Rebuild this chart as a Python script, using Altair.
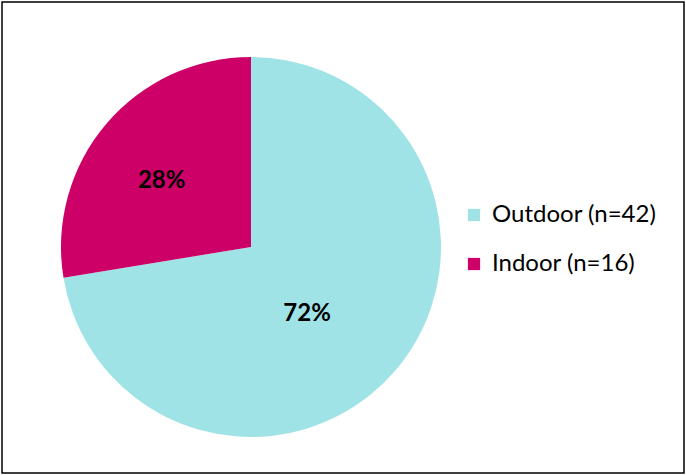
import altair as alt
import pandas as pd

categories = ["Outdoor (n=42)", "Indoor (n=16)"]
counts = [42, 16]
labels = ["72%", "28%"]
colors = ["#A0E3E6", "#CC0066"]

df = pd.DataFrame({"category": categories, "count": counts, "label": labels,
                   "order": list(range(len(categories)))})

base = alt.Chart(df).encode(
    theta=alt.Theta("count:Q", stack=True),
    order=alt.Order("order:Q"),
)

pie = base.mark_arc(outerRadius=190).encode(
    x=alt.value(249), y=alt.value(245),
    color=alt.Color("category:N",
                    scale=alt.Scale(domain=categories, range=colors),
                    sort=categories,
                    legend=alt.Legend(title=None, orient="none", legendX=460, legendY=201,
                                      symbolType="square", symbolSize=150,
                                      symbolStrokeWidth=0, labelFont="Lato",
                                      labelFontSize=24, labelColor="#000000",
                                      labelOffset=6, rowPadding=25, padding=0,
                                      labelLimit=300)),
)

text_style = dict(font="Lato", fontSize=24, fontWeight="bold", color="#000000")
text_out = base.mark_text(radius=88, dx=-11, dy=10, **text_style).encode(
    x=alt.value(249), y=alt.value(245), text="label:N",
    opacity=alt.condition(alt.datum.order == 0, alt.value(1), alt.value(0)),
)
text_in = base.mark_text(radius=112, dx=-4, dy=7, **text_style).encode(
    x=alt.value(249), y=alt.value(245), text="label:N",
    opacity=alt.condition(alt.datum.order == 1, alt.value(1), alt.value(0)),
)

chart = alt.layer(pie, text_out, text_in).properties(
    width=682, height=471, padding=2,
    autosize=alt.AutoSizeParams(type="none"),
).configure_view(stroke="#000000", strokeWidth=1.5)

chart.save("out.html", embed_options={"renderer": "svg", "actions": False})
